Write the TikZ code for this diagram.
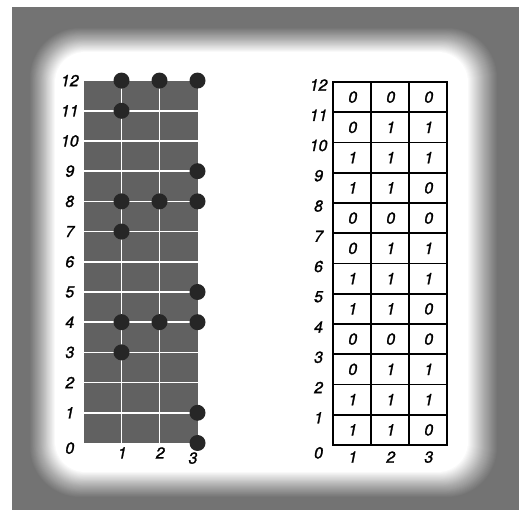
\documentclass[tikz,border=0pt]{standalone}
\usepackage{fontspec}
\newfontfamily\numfont{TeX Gyre Heros}[FakeSlant=0.2, FakeBold=1.4]
\begin{document}
\begin{tikzpicture}[x=1bp, y=1bp,
    every node/.style={font=\fontsize{16}{18}\selectfont\numfont, inner sep=0pt},
    peg/.style={fill=black!85},
    slot/.style={white, line width=1.5bp},
    rule/.style={black, line width=1.8bp}]
    \useasboundingbox (0,0) rectangle (519,510);

    % Grey frame with a soft white middle
    \fill[black!55] (12,0) rectangle (519,503);
    \foreach \k [evaluate=\k as \a using 1/(31-\k), evaluate=\k as \t using (\k-1)/29] in {1,...,30}
      \fill[white, opacity=\a, rounded corners=50bp-20bp*\t]
        (30+25*\t,13+25*\t) rectangle (497-29*\t,482-24*\t);

    % Pegboard
    \begin{scope}[shift={(83.5bp,67bp)}, x=38bp, y=30.2bp]
      \fill[black!62] (0,0) rectangle (3,12);
      \foreach \y in {1,...,11} \draw[slot] (0,\y) -- (3,\y);
      \draw[slot] (1,0) -- (1,12);
      \draw[slot] (2,0) -- (2,12);

      % Row and column numbers
      \foreach \y in {1,...,12} \node (lrow\y) at (-0.38,\y) {\y};
      \node (lrow0) at (-0.38,-0.17) {0};
      \node (lcol1) at (1,-0.33) {1};
      \node (lcol2) at (2,-0.33) {2};
      \node (lcol3) at (2.86,-0.5) {3};

      % Pegs
      \fill[peg] (1,12) circle (8bp);
      \fill[peg] (2,12) circle (8bp);
      \fill[peg] (3,12) circle (8bp);
      \fill[peg] (1,11) circle (8bp);
      \fill[peg] (3,9) circle (8bp);
      \fill[peg] (1,8) circle (8bp);
      \fill[peg] (2,8) circle (8bp);
      \fill[peg] (3,8) circle (8bp);
      \fill[peg] (1,7) circle (8bp);
      \fill[peg] (3,5) circle (8bp);
      \fill[peg] (1,4) circle (8bp);
      \fill[peg] (2,4) circle (8bp);
      \fill[peg] (3,4) circle (8bp);
      \fill[peg] (1,3) circle (8bp);
      \fill[peg] (3,1) circle (8bp);
      \fill[peg] (3,0) circle (8bp);
    \end{scope}

    % Table of bits
    \begin{scope}[shift={(333bp,65bp)}, x=38bp, y=30.25bp]
      \draw[rule] (0,0) rectangle (3,12);
      \foreach \y in {1,...,11} \draw[rule] (0,\y) -- (3,\y);
      \draw[rule] (1,0) -- (1,12);
      \draw[rule] (2,0) -- (2,12);

      % Row and column numbers
      \foreach \y in {1,...,12} \node (rrow\y) at (-0.4,\y-0.1) {\y};
      \node (rrow0) at (-0.4,-0.26) {0};
      \node (rcol1) at (0.5,-0.4) {1};
      \node (rcol2) at (1.5,-0.4) {2};
      \node (rcol3) at (2.5,-0.4) {3};

      % Cells, bottom row first
      \node (c0a) at (0.5,0.5) {1}; \node (c0b) at (1.5,0.5) {1}; \node (c0c) at (2.5,0.5) {0};
      \node (c1a) at (0.5,1.5) {1}; \node (c1b) at (1.5,1.5) {1}; \node (c1c) at (2.5,1.5) {1};
      \node (c2a) at (0.5,2.5) {0}; \node (c2b) at (1.5,2.5) {1}; \node (c2c) at (2.5,2.5) {1};
      \node (c3a) at (0.5,3.5) {0}; \node (c3b) at (1.5,3.5) {0}; \node (c3c) at (2.5,3.5) {0};
      \node (c4a) at (0.5,4.5) {1}; \node (c4b) at (1.5,4.5) {1}; \node (c4c) at (2.5,4.5) {0};
      \node (c5a) at (0.5,5.5) {1}; \node (c5b) at (1.5,5.5) {1}; \node (c5c) at (2.5,5.5) {1};
      \node (c6a) at (0.5,6.5) {0}; \node (c6b) at (1.5,6.5) {1}; \node (c6c) at (2.5,6.5) {1};
      \node (c7a) at (0.5,7.5) {0}; \node (c7b) at (1.5,7.5) {0}; \node (c7c) at (2.5,7.5) {0};
      \node (c8a) at (0.5,8.5) {1}; \node (c8b) at (1.5,8.5) {1}; \node (c8c) at (2.5,8.5) {0};
      \node (c9a) at (0.5,9.5) {1}; \node (c9b) at (1.5,9.5) {1}; \node (c9c) at (2.5,9.5) {1};
      \node (c10a) at (0.5,10.5) {0}; \node (c10b) at (1.5,10.5) {1}; \node (c10c) at (2.5,10.5) {1};
      \node (c11a) at (0.5,11.5) {0}; \node (c11b) at (1.5,11.5) {0}; \node (c11c) at (2.5,11.5) {0};
    \end{scope}
\end{tikzpicture}
\end{document}
